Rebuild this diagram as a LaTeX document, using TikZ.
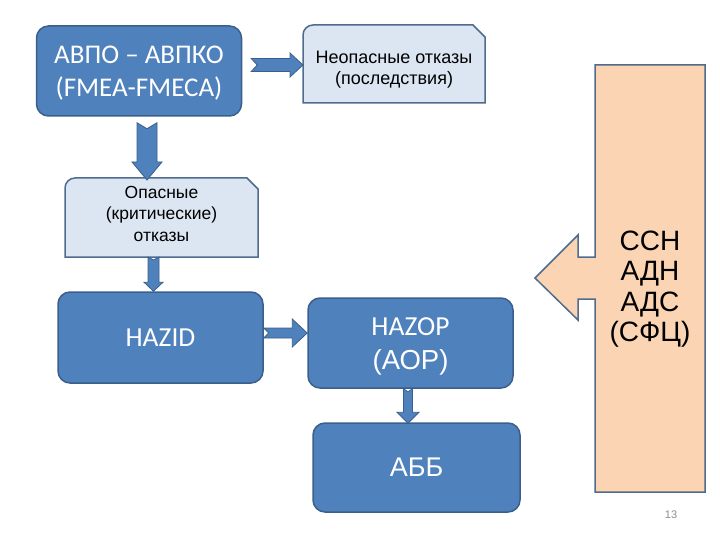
\documentclass[tikz,border=0pt]{standalone}
\usepackage{fontspec}
\setmainfont{Liberation Sans}
\newfontfamily\calib{Carlito}
\usetikzlibrary{calc}
\definecolor{bfill}{HTML}{4F81BD}
\definecolor{bline}{HTML}{3A5F8B}
\definecolor{lfill}{HTML}{DCE6F2}
\definecolor{lline}{HTML}{4F6B8D}
\definecolor{pfill}{HTML}{FBD4B4}
\definecolor{pnum}{HTML}{8C8C8C}
\tikzset{
  bluebox/.style={draw=bline, fill=bfill, line width=1.5pt, rounded corners=12pt,
    text=white, align=center, inner sep=0pt},
  holder/.style={inner sep=0pt, outer sep=0pt},
  lightshape/.style={draw=lline, fill=lfill, line width=1.5pt, line join=miter},
  lighttext/.style={align=center, inner sep=0pt, text=black},
  barrowstyle/.style={draw=bline, fill=bfill, line width=0.8pt, line join=miter},
  callout/.style={draw=lline, fill=pfill, line width=1.5pt, line join=miter},
}
\newcommand{\rblockarrow}[6]{%
  \draw[barrowstyle] let \p1=#1, \p2=#2 in
  (\x1,\y2+#3) -- (\x2-#5,\y2+#3) -- (\x2-#5,\y2+#4) -- (\x2,\y2)
  -- (\x2-#5,\y2-#4) -- (\x2-#5,\y2-#3) -- (\x1,\y2-#3) -- (\x1+#6,\y2) -- cycle;}
\newcommand{\dblockarrow}[6]{%
  \draw[barrowstyle] let \p1=#1, \p2=#2 in
  (\x1-#3,\y1) -- (\x1-#3,\y2+#5) -- (\x1-#4,\y2+#5) -- (\x1,\y2)
  -- (\x1+#4,\y2+#5) -- (\x1+#3,\y2+#5) -- (\x1+#3,\y1) -- (\x1,\y1-#6) -- cycle;}
\begin{document}
\begin{tikzpicture}[x=1pt,y=-1pt]
\useasboundingbox (0,0) rectangle (720,540);

% blue boxes
\node[bluebox, minimum width=205pt, minimum height=90pt] (avpo) at (139,71) {};
\node[text=white, align=center, inner sep=0pt,
  font=\calib\fontsize{27}{33}\selectfont] (avpotxt) at ($(avpo.center)+(0,-2pt)$)
  {АВПО – АВПКО\\(FMEA-FMECA)};
\node[bluebox, minimum width=205pt, minimum height=91pt,
  font=\calib\fontsize{27.5}{33}\selectfont] (hazid) at (160.5,337.5)
  {HAZID};
\node[bluebox, minimum width=205pt, minimum height=90pt] (hazop) at (410.5,343) {};
\node[text=white, align=center, inner sep=0pt,
  font=\fontsize{27.5}{34}\selectfont] (hazoptxt) at ($(hazop.center)+(0,-3pt)$)
  {{\calib HAZOP}\\(АОР)};
\node[bluebox, minimum width=207pt, minimum height=89pt,
  font=\fontsize{27}{32}\selectfont] (abb) at (416.5,467.5)
  {АББ};

% light boxes (snipped top-right, rounded top-left)
\node[holder, minimum width=182pt, minimum height=78pt] (neo) at (394,64) {};
\draw[lightshape] (neo.south west) -- (neo.south east)
  -- ($(neo.north east)+(0,-12pt)$) -- ($(neo.north east)+(-12pt,0)$)
  -- ($(neo.north west)+(10pt,0)$) arc[start angle=90, end angle=180, radius=10pt]
  -- cycle;
\node[lighttext, font=\fontsize{18}{21}\selectfont] (neotxt) at ($(neo.center)+(0,-6pt)$)
  {Неопасные отказы\\(последствия)};

\node[holder, minimum width=193pt, minimum height=79pt] (op) at (161.5,217.5) {};
\draw[lightshape] (op.south west) -- (op.south east)
  -- ($(op.north east)+(0,-11pt)$) -- ($(op.north east)+(-11pt,0)$)
  -- ($(op.north west)+(10pt,0)$) arc[start angle=90, end angle=180, radius=10pt]
  -- cycle;
\node[lighttext, font=\fontsize{17.5}{21.5}\selectfont] (optxt) at ($(op.center)+(0,4pt)$)
  {Опасные\\(критические)\\отказы};

% block arrows
\rblockarrow{($(avpo.east)+(9pt,0)$)}{($(neo.west)+(0,-1pt)$)}{6.5pt}{12pt}{13pt}{6pt}
\rblockarrow{(hazid.east)}{($(hazop.west)+(0,10pt)$)}{5pt}{14pt}{15pt}{5pt}
\dblockarrow{($(avpo.south)+(8pt,-6pt)$)}{($(op.north)+(0,-2pt)$)}{10pt}{15pt}{18pt}{6pt}
\dblockarrow{($(op.south)+(-8pt,0)$)}{(hazid.north)}{5.5pt}{9.5pt}{9pt}{3pt}
\dblockarrow{($(hazop.south)+(-2.5pt,0)$)}{($(abb.north)+(0,-1pt)$)}{4.5pt}{11pt}{11pt}{3pt}

% right callout
\coordinate (cnw) at (595,65);
\coordinate (cse) at (705,492);
\draw[callout] (cnw) -- (705,65) -- (cse) -- (595,492) -- (595,299)
  -- (578,299) -- (578,320) -- (535,278) -- (578,235) -- (578,257)
  -- (595,257) -- cycle;
\node[lighttext, font=\fontsize{28}{30.5}\selectfont] (ssn) at (650,289)
  {ССН\\АДН\\АДС\\(СФЦ)};

\node[text=pnum, inner sep=0pt, font=\fontsize{11}{13}\selectfont] (pg) at (671,515) {13};
\end{tikzpicture}
\end{document}
